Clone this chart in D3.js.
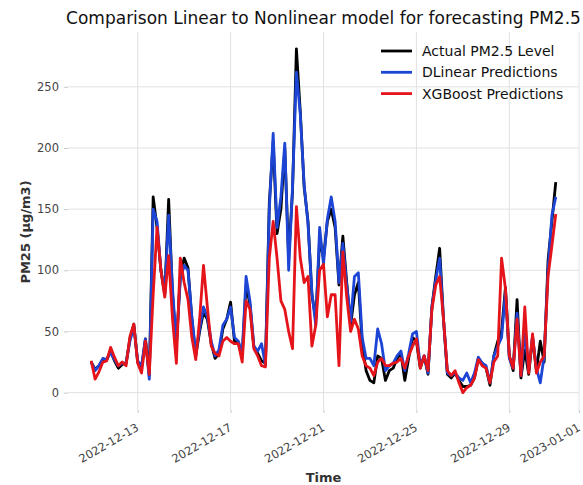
<!DOCTYPE html>
<html>
<head>
<meta charset="utf-8">
<script src="https://cdnjs.cloudflare.com/ajax/libs/d3/7.8.5/d3.min.js"></script>
<style>
  body { margin: 0; background: #fff; }
  .chart text { font-family: "DejaVu Sans", sans-serif; }
</style>
</head>
<body>
<div class="chart"></div>
<script>
var svgWidth = 583;
var svgHeight = 485;

var margin = { top: 32, right: 4, bottom: 75, left: 68 };
var width = 579 - margin.left;
var height = 410 - margin.top;

// 4-hourly readings, starting 2022-12-11 00:00
var startTime = new Date(2022, 11, 11, 0, 0);
var stepHours = 4;

var actual = [25, 19, 22, 27, 27, 34, 26, 20, 23, 24, 44, 56, 25, 20, 44, 14, 160, 135, 100, 80,
  158, 80, 38, 95, 110, 102, 60, 30, 50, 66, 60, 40, 28, 32, 52, 60, 74, 42, 40, 30,
  88, 72, 38, 32, 26, 24, 155, 205, 130, 150, 200, 110, 165, 281, 230, 168, 140, 80, 60, 125,
  110, 140, 150, 135, 88, 128, 90, 55, 80, 90, 40, 18, 10, 8, 30, 28, 10, 18, 20, 28,
  32, 10, 28, 45, 42, 20, 30, 15, 70, 95, 118, 60, 15, 12, 16, 10, 5, 5, 6, 12,
  28, 24, 20, 6, 30, 42, 50, 86, 30, 18, 76, 12, 35, 15, 45, 18, 42, 25, 108, 140,
  172];

var dlinear = [25, 18, 22, 28, 27, 33, 27, 22, 24, 24, 42, 54, 26, 22, 44, 11, 150, 140, 100, 82,
  145, 85, 40, 92, 104, 100, 62, 32, 52, 70, 62, 42, 30, 35, 55, 60, 70, 45, 42, 32,
  95, 75, 38, 34, 40, 22, 150, 212, 135, 160, 204, 100, 168, 262, 228, 170, 138, 82, 55, 135,
  105, 142, 160, 140, 90, 122, 88, 58, 95, 98, 45, 28, 28, 22, 52, 40, 18, 22, 24, 30,
  34, 18, 32, 48, 50, 22, 30, 16, 70, 92, 110, 60, 16, 14, 16, 12, 10, 16, 8, 16,
  29, 24, 22, 8, 30, 38, 45, 82, 28, 20, 65, 14, 50, 18, 46, 20, 8, 30, 100, 145,
  160];

var xgboost = [26, 11, 17, 25, 26, 37, 29, 22, 25, 22, 46, 56, 24, 16, 42, 15, 80, 135, 100, 78,
  112, 60, 24, 110, 90, 76, 45, 27, 60, 104, 70, 38, 32, 30, 42, 45, 42, 40, 40, 25,
  75, 68, 36, 30, 22, 21, 110, 140, 110, 75, 68, 50, 36, 152, 110, 90, 95, 38, 55, 100,
  105, 62, 80, 80, 22, 115, 78, 50, 60, 52, 30, 22, 20, 14, 25, 28, 22, 22, 24, 25,
  28, 20, 30, 38, 44, 20, 30, 18, 68, 88, 95, 60, 18, 14, 18, 8, 0, 4, 6, 12,
  27, 22, 20, 8, 25, 30, 110, 85, 30, 20, 60, 14, 70, 16, 48, 16, 25, 30, 95, 120,
  146];

var yTicks = [0, 50, 100, 150, 200, 250];
var xTickLabels = ["2022-12-13", "2022-12-17", "2022-12-21", "2022-12-25", "2022-12-29", "2023-01-01"];

var seriesNames = ["Actual PM2.5 Level", "DLinear Predictions", "XGBoost Predictions"];
var seriesColors = ["#000000", "#1c45d6", "#e5131a"];

var parseDay = d3.timeParse("%Y-%m-%d");
var times = actual.map(function(d, i) {
  return d3.timeHour.offset(startTime, i * stepHours);
});

var series = [actual, dlinear, xgboost].map(function(vals, k) {
  return {
    name: seriesNames[k],
    color: seriesColors[k],
    values: vals.map(function(v, i) { return { t: times[i], v: v }; })
  };
});

var svg = d3.select(".chart")
  .append("svg")
  .attr("width", svgWidth)
  .attr("height", svgHeight);

var chartGroup = svg.append("g")
  .attr("transform", `translate(${margin.left}, ${margin.top})`);

// scales
var xTimeScale = d3.scaleTime()
  .domain([new Date(2022, 11, 10), new Date(2023, 0, 1)])
  .range([0, width]);

var yLinearScale = d3.scaleLinear()
  .domain([-14.2, 294.8])
  .range([height, 0]);

// grid
chartGroup.append("g")
  .selectAll("line")
  .data(yTicks)
  .enter()
  .append("line")
  .attr("x1", 0)
  .attr("x2", width)
  .attr("y1", d => yLinearScale(d))
  .attr("y2", d => yLinearScale(d))
  .attr("stroke", "#e1e1e1")
  .attr("stroke-width", 1);

chartGroup.append("g")
  .selectAll("line")
  .data(xTickLabels)
  .enter()
  .append("line")
  .attr("x1", d => xTimeScale(parseDay(d)))
  .attr("x2", d => xTimeScale(parseDay(d)))
  .attr("y1", 0)
  .attr("y2", height)
  .attr("stroke", "#e1e1e1")
  .attr("stroke-width", 1);

// axes
var bottomAxis = d3.axisBottom(xTimeScale)
  .tickValues(xTickLabels.map(parseDay))
  .tickFormat(d3.timeFormat("%Y-%m-%d"))
  .tickSize(3)
  .tickPadding(6);

var leftAxis = d3.axisLeft(yLinearScale)
  .tickValues(yTicks)
  .tickSize(4)
  .tickPadding(5);

var xAxisG = chartGroup.append("g")
  .attr("transform", `translate(0, ${height})`)
  .call(bottomAxis);

xAxisG.selectAll("text")
  .attr("text-anchor", "end")
  .attr("dy", "0")
  .attr("transform", "translate(-3, 12) rotate(-30)");

var yAxisG = chartGroup.append("g")
  .call(leftAxis);

[xAxisG, yAxisG].forEach(function(g) {
  g.select(".domain").remove();
  g.selectAll(".tick line").attr("stroke", "#c8c8c8");
  g.selectAll("text")
    .attr("fill", "#444")
    .attr("font-size", "11.5px")
    .attr("font-family", "DejaVu Sans, sans-serif");
});

// lines
var line = d3.line()
  .x(d => xTimeScale(d.t))
  .y(d => yLinearScale(d.v));

chartGroup.selectAll(".series")
  .data(series)
  .enter()
  .append("path")
  .attr("class", "series")
  .attr("d", d => line(d.values))
  .attr("fill", "none")
  .attr("stroke", d => d.color)
  .attr("stroke-width", 2.8)
  .attr("stroke-linejoin", "round");

// legend
var legend = svg.append("g")
  .attr("transform", "translate(381, 51)");

var legendRows = legend.selectAll("g")
  .data(series)
  .enter()
  .append("g")
  .attr("transform", (d, i) => `translate(0, ${i * 21.3})`);

legendRows.append("line")
  .attr("x1", 0)
  .attr("x2", 31)
  .attr("stroke", d => d.color)
  .attr("stroke-width", 2.8);

legendRows.append("text")
  .attr("x", 41)
  .attr("y", 5)
  .attr("font-size", "14px")
  .attr("fill", "#111")
  .text(d => d.name);

// title and axis labels
svg.append("text")
  .attr("x", margin.left + width / 2)
  .attr("y", 24)
  .attr("text-anchor", "middle")
  .attr("font-size", "17px")
  .attr("fill", "#111")
  .text("Comparison Linear to Nonlinear model for forecasting PM2.5");

svg.append("text")
  .attr("transform", "translate(30, 232) rotate(-90)")
  .attr("text-anchor", "middle")
  .attr("font-size", "13px")
  .attr("font-weight", "bold")
  .attr("fill", "#333")
  .text("PM25 (µg/m3)");

svg.append("text")
  .attr("x", margin.left + width / 2)
  .attr("y", 482)
  .attr("text-anchor", "middle")
  .attr("font-size", "13px")
  .attr("font-weight", "bold")
  .attr("fill", "#333")
  .text("Time");
</script>
</body>
</html>
